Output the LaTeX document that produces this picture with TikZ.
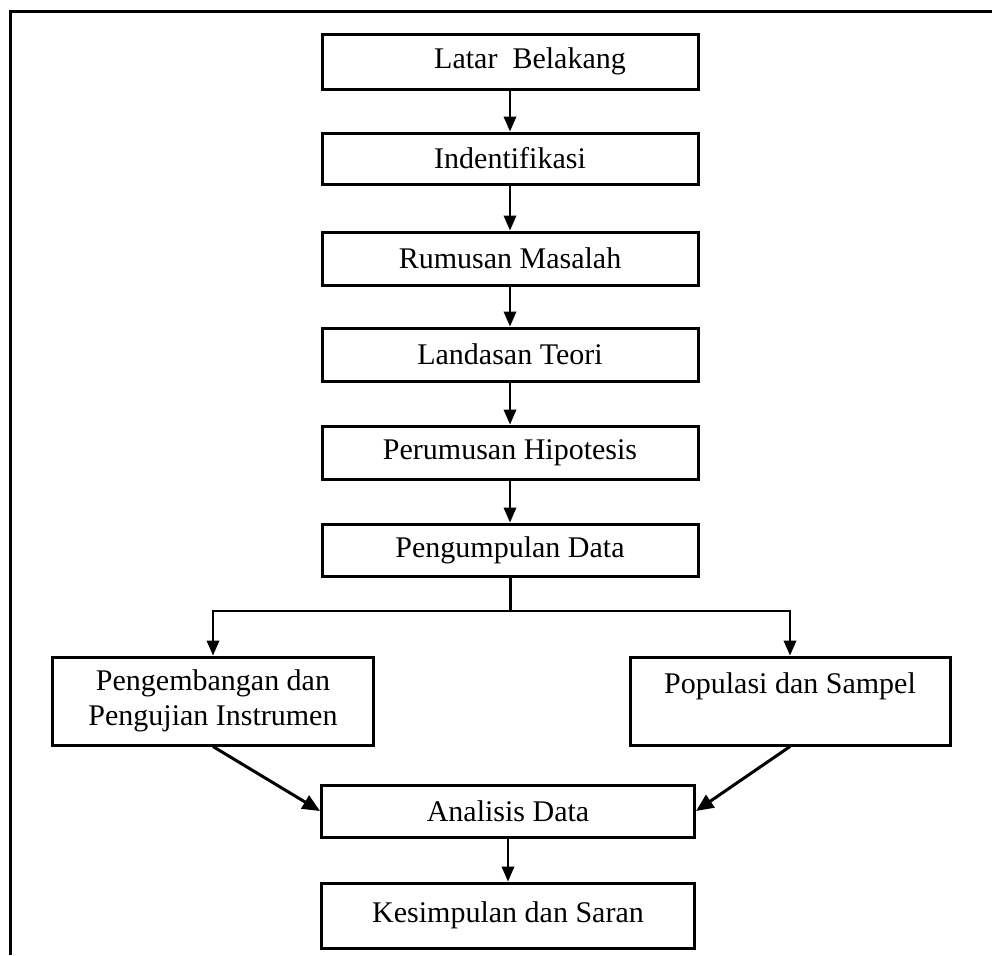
\documentclass[tikz,border=0pt]{standalone}
\usepackage{fontspec}
\setmainfont{Liberation Serif}
\usetikzlibrary{arrows.meta}
\newcommand{\px}{0.4pt}
\tikzstyle{langkah}=[draw, line width=1.2pt, minimum width=376*\px, minimum height=53*\px, inner sep=0, font=\fontsize{12}{14}\selectfont, align=center]
\tikzstyle{alur}=[line width=0.8pt, -{Triangle[width=5pt, length=6pt]}]
\tikzstyle{alur miring}=[line width=1.2pt, -{Triangle[width=6pt, length=7pt]}]
\tikzstyle{bingkai}=[line width=1.2pt]

\begin{document}
\begin{tikzpicture}[x=\px, y=-\px]
          \useasboundingbox (0, 0) rectangle (992, 955);
          \draw[bingkai] (10, 955) -- (10, 11) -- (992, 11);

          \node[langkah, minimum height=55*\px] (latar) at (510, 61.5) {\hspace*{16pt}Latar\ \ Belakang};
          \node[langkah, minimum height=51*\px] (identifikasi) at (510, 158.5) {Indentifikasi};
          \node[langkah] (rumusan) at (510, 258.5) {Rumusan Masalah};
          \node[langkah] (landasan) at (510, 354.5) {Landasan Teori};
          \node[langkah] (hipotesis) at (510, 452.5) {Perumusan Hipotesis};
          \node[langkah, minimum height=52*\px] (pengumpulan) at (510, 550) {Pengumpulan Data};
          \node[langkah, minimum width=321*\px, minimum height=88*\px] (pengembangan) at (213, 701) {Pengembangan dan\\Pengujian Instrumen};
          \node[langkah, minimum width=320*\px, minimum height=88*\px] (populasi) at (790, 701) {Populasi dan Sampel\\\mbox{}};
          \node[langkah, minimum width=373*\px, minimum height=52*\px] (analisis) at (508, 811) {Analisis Data};
          \node[langkah, minimum width=373*\px, minimum height=65*\px] (kesimpulan) at (508, 915.5) {Kesimpulan dan Saran};
          \coordinate (cabang) at (510, 611);

          \draw[alur] (latar) -- (identifikasi);
          \draw[alur] (identifikasi) -- (rumusan);
          \draw[alur] (rumusan) -- (landasan);
          \draw[alur] (landasan) -- (hipotesis);
          \draw[alur] (hipotesis) -- (pengumpulan);
          \draw[line width=1.2pt] (pengumpulan) -- (cabang);
          \draw[alur] (cabang) -| (pengembangan.north);
          \draw[alur] (cabang) -| (populasi.north);
          \draw[alur miring] (pengembangan.south) -- (analisis.west);
          \draw[alur miring] (populasi.south) -- (analisis.east);
          \draw[alur] (analisis) -- (kesimpulan);
        \end{tikzpicture}
\end{document}
